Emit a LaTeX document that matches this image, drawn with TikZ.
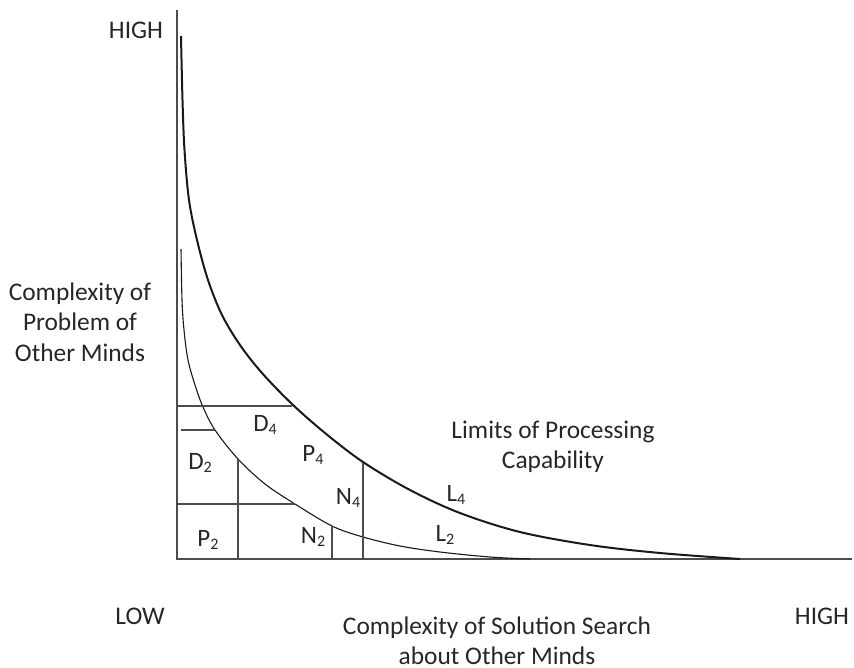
\documentclass[tikz,border=0pt]{standalone}
\usepackage{fontspec}
\setmainfont{Carlito}
\newcommand\lowsub[1]{\raisebox{-0.12em}{\fontsize{16}{16}\selectfont #1}}
\begin{document}
\begin{tikzpicture}[x=1pt,y=-1pt,
  axisline/.style={draw=black!70,line width=1.6pt},
  gridline/.style={draw=black!70,line width=1.4pt},
  outercurve/.style={draw=black!90,line width=2pt},
  innercurve/.style={draw=black!90,line width=1.1pt},
  lbl/.style={font=\fontsize{25.4}{30.5}\selectfont,text=black!85,inner sep=0pt,align=center},
  region/.style={font=\fontsize{25}{30}\selectfont,text=black!85,inner sep=0pt}]
\useasboundingbox (0,0) rectangle (854,667);

% axes
\coordinate (origin) at (177,559);
\coordinate (ytop) at (177,10);
\coordinate (xend) at (852,559);
\draw[axisline] (ytop) -- (origin) -- (xend);

% limits of processing capability
\draw[outercurve] plot[smooth,tension=0.55] coordinates {
  (181,36) (182.5,100) (184.5,150) (189,200) (197,240) (208,280) (222,315)
  (240,345) (262,373) (292,404) (325,433) (363,462) (410,490) (460,513)
  (520,532) (590,545) (660,553) (740,559)};
\draw[innercurve] plot[smooth,tension=0.55] coordinates {
  (181,249) (182,300) (184,330) (188,360) (195,385) (203,407) (215,430)
  (238,459) (265,484) (295,504) (332,526) (363,537) (400,546) (440,552)
  (490,557) (530,559)};

% partition of the region under the curves
\draw[gridline] (177,406) -- (292,406);
\draw[gridline] (181,430) -- (215,430);
\draw[gridline] (177,504) -- (295,504);
\draw[gridline] (238,459) -- (238,559);
\draw[gridline] (332,526) -- (332,559);
\draw[gridline] (363,463) -- (363,559);

% region labels
\node[region] (d4) at (265,425) {D\lowsub{4}};
\node[region] (d2) at (200,463) {D\lowsub{2}};
\node[region] (p4) at (313,455) {P\lowsub{4}};
\node[region] (n4) at (348,498) {N\lowsub{4}};
\node[region] (p2) at (208,540) {P\lowsub{2}};
\node[region] (n2) at (313,537) {N\lowsub{2}};
\node[region] (l4) at (456,495) {L\lowsub{4}};
\node[region] (l2) at (445,535) {L\lowsub{2}};

% axis annotations
\node[lbl] (yhigh) at (136,30) {HIGH};
\node[lbl] (xlow) at (140,616) {LOW};
\node[lbl] (xhigh) at (822,616) {HIGH};
\node[lbl] (ylabel) at (80,322) {Complexity of\\Problem of\\Other Minds};
\node[lbl] (xlabel) at (497,641) {Complexity of Solution Search\\about Other Minds};
\node[lbl] (limits) at (553,447) {Limits of Processing\\Capability};
\end{tikzpicture}
\end{document}
